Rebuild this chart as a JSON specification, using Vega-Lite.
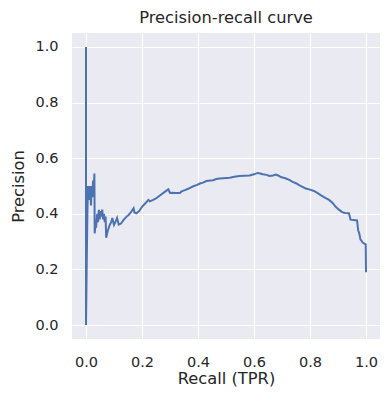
{
  "$schema": "https://vega.github.io/schema/vega-lite/v6.json",
  "width": 308,
  "height": 306,
  "autosize": "none",
  "padding": {"left": 72, "top": 33, "right": 11, "bottom": 63},
  "background": "white",
  "title": {"text": "Precision-recall curve", "font": "DejaVu Sans", "fontSize": 16.3, "fontWeight": "normal", "color": "#262626", "offset": 7},
  "config": {
    "view": {"fill": "#eaeaf2", "stroke": null},
    "axis": {
      "domain": false, "ticks": false, "grid": true, "gridColor": "white", "gridWidth": 1.1,
      "labelFont": "DejaVu Sans", "labelFontSize": 14.5, "labelColor": "#262626",
      "titleFont": "DejaVu Sans", "titleFontSize": 16.3, "titleFontWeight": "normal", "titleColor": "#262626"
    }
  },
  "data": {"values": [
    {"o":0,"r":0,"p":1.0},{"o":1,"r":0,"p":0.0},{"o":2,"r":0.003,"p":0.25},{"o":3,"r":0.005,"p":0.40},{"o":4,"r":0.007,"p":0.50},
    {"o":5,"r":0.012,"p":0.45},{"o":6,"r":0.014,"p":0.50},{"o":7,"r":0.018,"p":0.43},{"o":8,"r":0.020,"p":0.50},{"o":9,"r":0.023,"p":0.46},
    {"o":10,"r":0.025,"p":0.52},{"o":11,"r":0.027,"p":0.47},{"o":12,"r":0.030,"p":0.545},{"o":13,"r":0.031,"p":0.33},{"o":14,"r":0.034,"p":0.36},
    {"o":15,"r":0.036,"p":0.35},{"o":16,"r":0.040,"p":0.40},{"o":17,"r":0.043,"p":0.37},{"o":18,"r":0.046,"p":0.414},{"o":19,"r":0.049,"p":0.38},
    {"o":20,"r":0.052,"p":0.41},{"o":21,"r":0.055,"p":0.39},{"o":22,"r":0.058,"p":0.415},{"o":23,"r":0.061,"p":0.38},{"o":24,"r":0.064,"p":0.40},
    {"o":25,"r":0.067,"p":0.37},{"o":26,"r":0.070,"p":0.39},{"o":27,"r":0.072,"p":0.314},{"o":28,"r":0.078,"p":0.34},{"o":29,"r":0.085,"p":0.361},
    {"o":30,"r":0.090,"p":0.37},{"o":31,"r":0.094,"p":0.385},{"o":32,"r":0.100,"p":0.36},{"o":33,"r":0.105,"p":0.37},{"o":34,"r":0.111,"p":0.385},
    {"o":35,"r":0.117,"p":0.361},{"o":36,"r":0.125,"p":0.365},{"o":37,"r":0.135,"p":0.379},{"o":38,"r":0.145,"p":0.39},{"o":39,"r":0.152,"p":0.396},
    {"o":40,"r":0.160,"p":0.405},{"o":41,"r":0.170,"p":0.42},{"o":42,"r":0.173,"p":0.405},{"o":43,"r":0.180,"p":0.402},{"o":44,"r":0.190,"p":0.41},
    {"o":45,"r":0.200,"p":0.425},{"o":46,"r":0.212,"p":0.438},{"o":47,"r":0.223,"p":0.45},{"o":48,"r":0.228,"p":0.445},{"o":49,"r":0.240,"p":0.45},
    {"o":50,"r":0.250,"p":0.455},{"o":51,"r":0.265,"p":0.467},{"o":52,"r":0.280,"p":0.478},{"o":53,"r":0.294,"p":0.488},{"o":54,"r":0.300,"p":0.475},
    {"o":55,"r":0.310,"p":0.476},{"o":56,"r":0.320,"p":0.475},{"o":57,"r":0.336,"p":0.475},{"o":58,"r":0.340,"p":0.48},{"o":59,"r":0.353,"p":0.485},
    {"o":60,"r":0.365,"p":0.49},{"o":61,"r":0.383,"p":0.499},{"o":62,"r":0.395,"p":0.503},{"o":63,"r":0.407,"p":0.509},{"o":64,"r":0.418,"p":0.512},
    {"o":65,"r":0.430,"p":0.518},{"o":66,"r":0.445,"p":0.52},{"o":67,"r":0.454,"p":0.521},{"o":68,"r":0.465,"p":0.525},{"o":69,"r":0.478,"p":0.527},
    {"o":70,"r":0.490,"p":0.528},{"o":71,"r":0.513,"p":0.530},{"o":72,"r":0.530,"p":0.533},{"o":73,"r":0.548,"p":0.536},{"o":74,"r":0.565,"p":0.537},
    {"o":75,"r":0.584,"p":0.538},{"o":76,"r":0.600,"p":0.542},{"o":77,"r":0.613,"p":0.547},{"o":78,"r":0.622,"p":0.545},{"o":79,"r":0.631,"p":0.542},
    {"o":80,"r":0.645,"p":0.54},{"o":81,"r":0.655,"p":0.536},{"o":82,"r":0.668,"p":0.538},{"o":83,"r":0.678,"p":0.541},{"o":84,"r":0.688,"p":0.537},
    {"o":85,"r":0.696,"p":0.532},{"o":86,"r":0.705,"p":0.53},{"o":87,"r":0.714,"p":0.527},{"o":88,"r":0.726,"p":0.522},{"o":89,"r":0.738,"p":0.515},
    {"o":90,"r":0.750,"p":0.51},{"o":91,"r":0.761,"p":0.503},{"o":92,"r":0.773,"p":0.497},{"o":93,"r":0.785,"p":0.491},{"o":94,"r":0.800,"p":0.487},
    {"o":95,"r":0.814,"p":0.482},{"o":96,"r":0.826,"p":0.475},{"o":97,"r":0.838,"p":0.467},{"o":98,"r":0.853,"p":0.458},{"o":99,"r":0.868,"p":0.45},
    {"o":100,"r":0.880,"p":0.44},{"o":101,"r":0.891,"p":0.426},{"o":102,"r":0.903,"p":0.415},{"o":103,"r":0.915,"p":0.406},{"o":104,"r":0.925,"p":0.403},
    {"o":105,"r":0.939,"p":0.402},{"o":106,"r":0.945,"p":0.379},{"o":107,"r":0.968,"p":0.376},{"o":108,"r":0.972,"p":0.341},{"o":109,"r":0.976,"p":0.33},
    {"o":110,"r":0.980,"p":0.308},{"o":111,"r":0.989,"p":0.296},{"o":112,"r":0.999,"p":0.29},{"o":113,"r":1.0,"p":0.19}
  ]},
  "mark": {"type": "line", "color": "#4c72b0", "strokeWidth": 2, "clip": true},
  "encoding": {
    "order": {"field": "o", "type": "quantitative"},
    "x": {"field": "r", "type": "quantitative", "scale": {"domain": [-0.05, 1.05], "nice": false, "zero": false},
      "axis": {"title": "Recall (TPR)", "values": [0, 0.2, 0.4, 0.6, 0.8, 1.0], "format": ".1f", "labelPadding": 16, "titlePadding": 2}},
    "y": {"field": "p", "type": "quantitative", "scale": {"domain": [-0.05, 1.05], "nice": false, "zero": false},
      "axis": {"title": "Precision", "values": [0, 0.2, 0.4, 0.6, 0.8, 1.0], "format": ".1f", "labelPadding": 14, "titlePadding": 8}}
  }
}
